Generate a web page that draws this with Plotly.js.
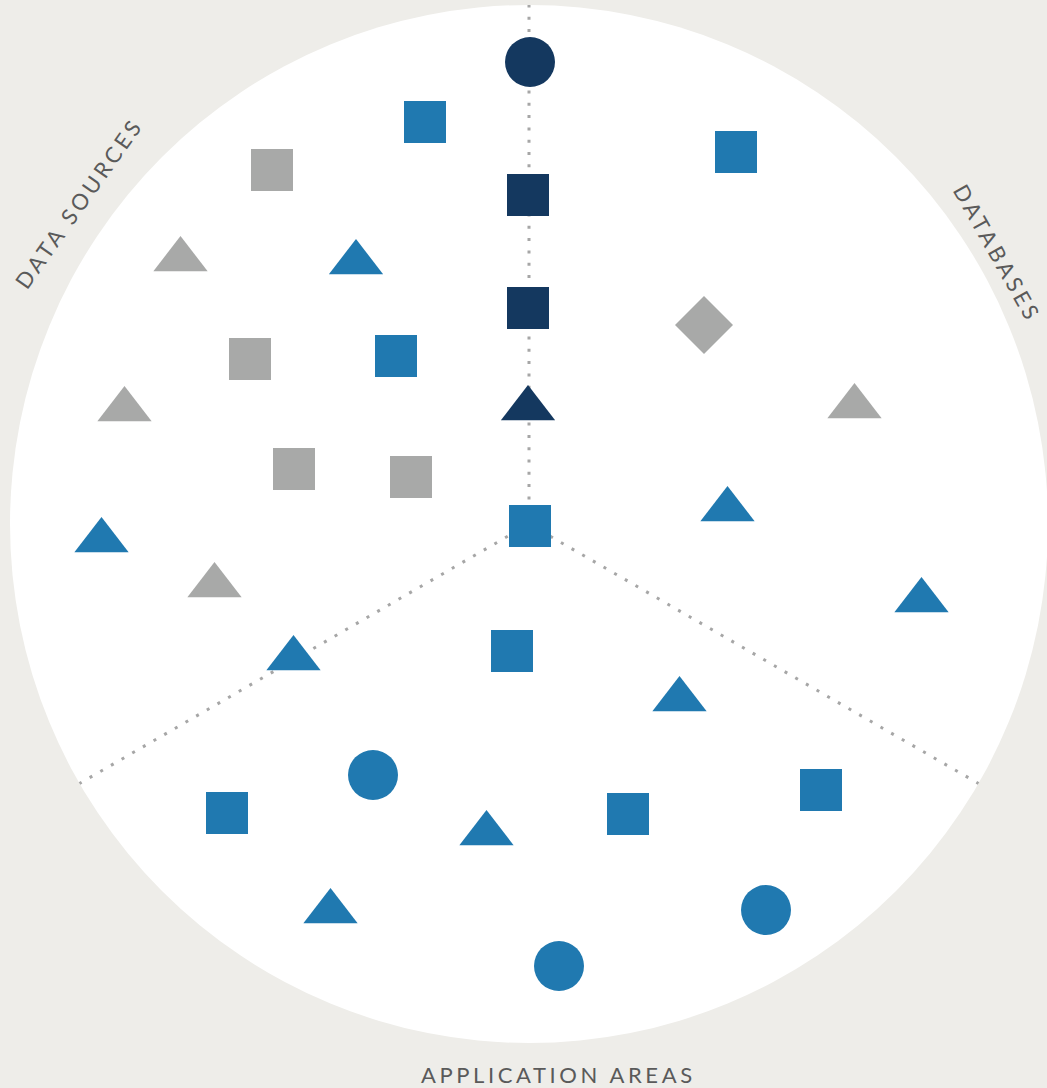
<!DOCTYPE html>
<html><head><meta charset="utf-8">
<script src="https://cdn.plot.ly/plotly-3.0.1.min.js"></script>
<style>
html,body{margin:0;padding:0;background:#eeede9;}
#chart{width:1047px;height:1088px;}
.annotation-text{letter-spacing:3.6px;}
</style></head><body><div id="chart"></div>
<script>
// ring: centre and radius in chart units
const ringCenter = [529, 524];
const ringRadius = 519;
const sectorAngles = [90, 210, 330];
const sectorLabels = ["DATA SOURCES", "DATABASES", "APPLICATION AREAS"];

// navy group
const navyX = [530, 528, 528, 528];
const navyY = [62, 195, 308, 408.5];
const navySymbol = ["circle", "square", "square", "triangle-up"];

// blue group
const blueX = [425, 736, 396, 530, 512, 227, 628, 821,
               356, 101.5, 727.5, 921.5, 293.5, 679.5, 486.5, 330.5,
               373, 766, 559];
const blueY = [122, 152, 356, 526, 651, 813, 814, 790,
               262.5, 540.5, 509.5, 600.5, 658.5, 699.5, 833.5, 911.5,
               775, 910, 966];
const blueSymbol = ["square","square","square","square","square","square","square","square",
                    "triangle-up","triangle-up","triangle-up","triangle-up","triangle-up","triangle-up","triangle-up","triangle-up",
                    "circle","circle","circle"];

// gray group
const grayX = [272, 250, 294, 411, 180.5, 124.5, 214.5, 854.5, 704];
const grayY = [170, 359, 469, 477, 259.5, 409.5, 585.5, 406.5, 325];
const graySymbol = ["square","square","square","square",
                    "triangle-up","triangle-up","triangle-up","triangle-up","diamond"];

const symbolSize = {"circle": 50, "square": 42, "triangle-up": 47, "diamond": 44.6};
const colors = {navy: "#14385f", blue: "#2079b0", gray: "#a8a9a8"};

function markerTrace(xs, ys, syms, color) {
  return {
    type: "scatter", mode: "markers", x: xs, y: ys, hoverinfo: "skip",
    marker: {symbol: syms, size: syms.map(s => symbolSize[s]), color: color, opacity: 1, line: {width: 0}}
  };
}

const lx = [], ly = [];
sectorAngles.forEach(a => {
  const r = a * Math.PI / 180;
  lx.push(ringCenter[0], ringCenter[0] + ringRadius * Math.cos(r), null);
  ly.push(ringCenter[1], ringCenter[1] - ringRadius * Math.sin(r), null);
});

const traces = [
  {type: "scatter", mode: "lines", x: lx, y: ly, hoverinfo: "skip",
   line: {color: "#a6a6a6", width: 3, dash: "3px,9.3px"}},
  markerTrace(grayX, grayY, graySymbol, colors.gray),
  markerTrace(blueX, blueY, blueSymbol, colors.blue),
  markerTrace(navyX, navyY, navySymbol, colors.navy)
];

const labelFont = {family: "Lato, 'Open Sans', sans-serif", size: 22, color: "#5a5a5a"};
const layout = {
  width: 1047, height: 1088,
  margin: {l: 0, r: 0, t: 0, b: 0, pad: 0},
  paper_bgcolor: "#eeede9", plot_bgcolor: "rgba(0,0,0,0)",
  showlegend: false, hovermode: false,
  xaxis: {range: [0, 1047], visible: false, fixedrange: true},
  yaxis: {range: [1088, 0], visible: false, fixedrange: true},
  shapes: [{
    type: "circle", xref: "x", yref: "y", layer: "below",
    x0: ringCenter[0] - ringRadius, x1: ringCenter[0] + ringRadius,
    y0: ringCenter[1] - ringRadius, y1: ringCenter[1] + ringRadius,
    fillcolor: "#ffffff", line: {width: 0}
  }],
  annotations: [
    {text: sectorLabels[0], x: 78, y: 203, xref: "x", yref: "y", showarrow: false, textangle: -54.7, font: labelFont},
    {text: sectorLabels[1], x: 998, y: 253, xref: "x", yref: "y", showarrow: false, textangle: 60.6, font: labelFont},
    {text: sectorLabels[2], x: 558, y: 1074, xref: "x", yref: "y", showarrow: false, textangle: 0, font: labelFont}
  ]
};

Plotly.newPlot("chart", traces, layout, {staticPlot: true, displayModeBar: false});
</script></body></html>
